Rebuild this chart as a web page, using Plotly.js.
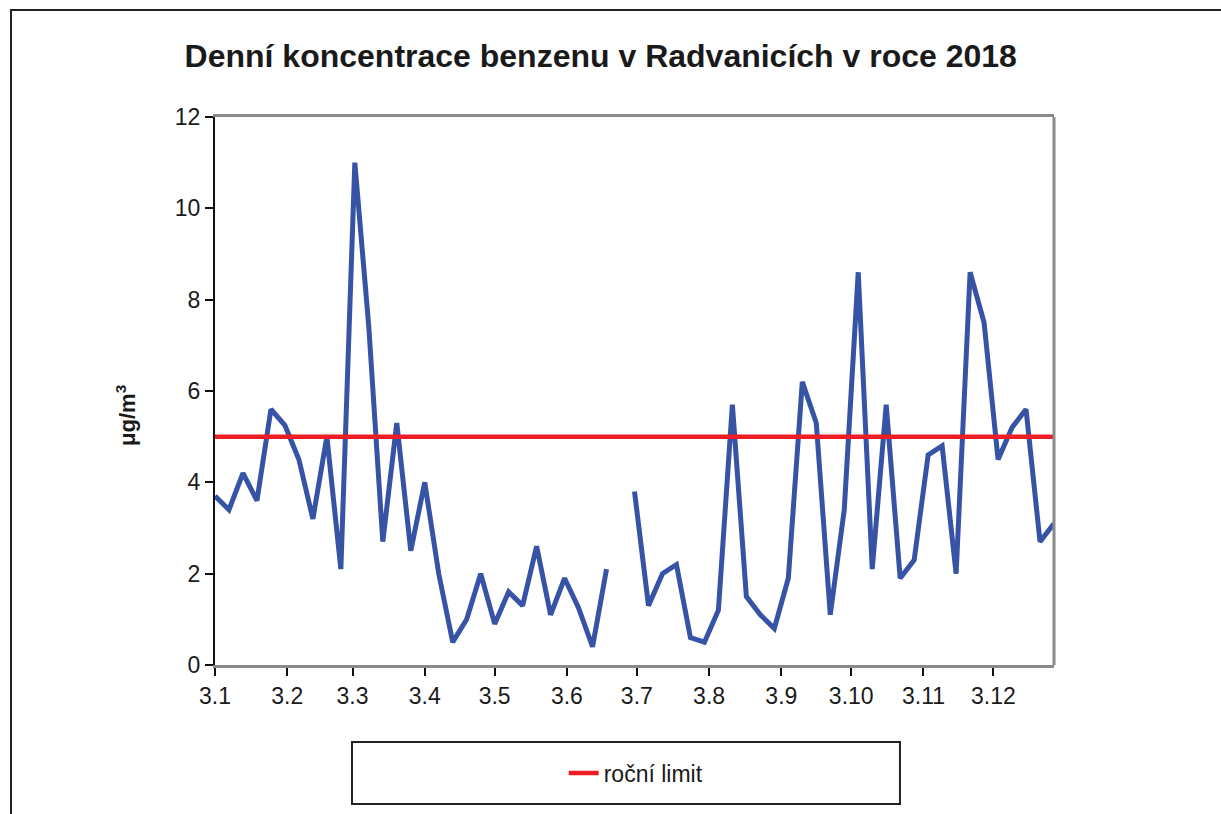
<!DOCTYPE html>
<html>
<head>
<meta charset="utf-8">
<script src="https://cdn.plot.ly/plotly-3.0.1.min.js"></script>
<style>
  html, body { margin: 0; padding: 0; background: #fff; }
  #wrap { position: relative; width: 1221px; height: 814px; }
  #chart { position: absolute; left: 0; top: 0; width: 1221px; height: 814px; }
  #frame { position: absolute; left: 10px; top: 9px; width: 1211px; height: 805px;
           border-top: 2px solid #222; border-left: 2px solid #222; box-sizing: border-box; pointer-events: none; }
</style>
</head>
<body>
<div id="wrap">
  <div id="chart"></div>
  <div id="frame"></div>
</div>
<script>
// Sampling dates (every 6th day, 2018)
const dates = [
  '2018-01-03','2018-01-09','2018-01-15','2018-01-21','2018-01-27',
  '2018-02-02','2018-02-08','2018-02-14','2018-02-20','2018-02-26',
  '2018-03-04','2018-03-10','2018-03-16','2018-03-22','2018-03-28',
  '2018-04-03','2018-04-09','2018-04-15','2018-04-21','2018-04-27',
  '2018-05-03','2018-05-09','2018-05-15','2018-05-21','2018-05-27',
  '2018-06-02','2018-06-08','2018-06-14','2018-06-20','2018-06-26',
  '2018-07-02','2018-07-08','2018-07-14','2018-07-20','2018-07-26',
  '2018-08-01','2018-08-07','2018-08-13','2018-08-19','2018-08-25','2018-08-31',
  '2018-09-06','2018-09-12','2018-09-18','2018-09-24','2018-09-30',
  '2018-10-06','2018-10-12','2018-10-18','2018-10-24','2018-10-30',
  '2018-11-05','2018-11-11','2018-11-17','2018-11-23','2018-11-29',
  '2018-12-05','2018-12-11','2018-12-17','2018-12-23','2018-12-29'
];
// Daily benzene concentration (µg/m3)
const benzene = [
  3.7, 3.4, 4.2, 3.6, 5.6,
  5.25, 4.5, 3.2, 5.0, 2.1,
  11.0, 7.4, 2.7, 5.3, 2.5,
  4.0, 2.0, 0.5, 1.0, 2.0,
  0.9, 1.6, 1.3, 2.6, 1.1,
  1.9, 1.25, 0.4, 2.1, null,
  3.8, 1.3, 2.0, 2.2, 0.6,
  0.5, 1.2, 5.7, 1.5, 1.1, 0.8,
  1.9, 6.2, 5.3, 1.1, 3.4,
  8.6, 2.1, 5.7, 1.9, 2.3,
  4.6, 4.8, 2.0, 8.6, 7.5,
  4.5, 5.2, 5.6, 2.7, 3.1
];
// Annual limit
const limitValue = 5;
const limitName = 'roční limit';
// X tick positions and labels
const tickDates = ['2018-01-03','2018-02-03','2018-03-03','2018-04-03','2018-05-03','2018-06-03',
                   '2018-07-03','2018-08-03','2018-09-03','2018-10-03','2018-11-03','2018-12-03'];
const tickLabels = ['3.1','3.2','3.3','3.4','3.5','3.6','3.7','3.8','3.9','3.10','3.11','3.12'];
const yTitle = 'μg/m<sup>3</sup>';

const font = 'Liberation Sans, Arial, sans-serif';

const traces = [
  {
    x: dates, y: benzene, type: 'scatter', mode: 'lines',
    line: { color: '#3653a6', width: 5 },
    connectgaps: false, showlegend: false, name: 'benzen'
  },
  {
    x: [dates[0], dates[dates.length - 1]], y: [limitValue, limitValue],
    type: 'scatter', mode: 'lines',
    line: { color: '#ee1c25', width: 4.5 },
    name: limitName, showlegend: true
  }
];

const layout = {
  width: 1221, height: 814,
  margin: { l: 215, r: 167, t: 117, b: 149 },
  paper_bgcolor: '#fff', plot_bgcolor: '#fff',
  font: { family: font, color: '#1a1a1a' },
  title: {
    text: '<b>Denní koncentrace benzenu v Radvanicích v roce 2018</b>',
    font: { family: font, size: 32, color: '#1a1a1a' },
    x: 0.492, xanchor: 'center', y: 0.932, yanchor: 'middle'
  },
  xaxis: {
    type: 'date',
    range: [dates[0], dates[dates.length - 1]],
    tickmode: 'array', tickvals: tickDates, ticktext: tickLabels,
    ticks: 'outside', ticklen: 8, tickwidth: 2, tickcolor: '#111',
    tickfont: { family: font, size: 23, color: '#1a1a1a' },
    showline: true, linecolor: '#8a8a8a', linewidth: 3, mirror: true,
    showgrid: false, zeroline: false, fixedrange: true
  },
  yaxis: {
    range: [0, 12], dtick: 2, tick0: 0,
    ticks: 'outside', ticklen: 8, tickwidth: 2, tickcolor: '#111',
    tickfont: { family: font, size: 23, color: '#1a1a1a' },
    showline: true, linecolor: '#111', linewidth: 2, mirror: false,
    showgrid: false, zeroline: false, fixedrange: true
  },
  annotations: [
    { text: '<b>' + yTitle + '</b>', xref: 'paper', yref: 'paper', x: -0.107, y: 0.455,
      xanchor: 'center', yanchor: 'middle', textangle: -90, showarrow: false,
      font: { family: font, size: 22, color: '#1a1a1a' } }
  ],
  showlegend: true,
  legend: {
    orientation: 'h', x: 0.502, xanchor: 'center', y: -0.197, yanchor: 'middle',
    font: { family: font, size: 23, color: '#1a1a1a' },
    bgcolor: 'rgba(0,0,0,0)', borderwidth: 0
  },
  shapes: [
    { type: 'line', xref: 'paper', yref: 'paper', x0: 1, x1: 1, y0: 0, y1: 1,
      line: { color: '#8a8a8a', width: 3 } },
    { type: 'rect', xref: 'paper', yref: 'paper', x0: 0.1633, x1: 0.8164, y0: -0.2536, y1: -0.1405,
      line: { color: '#222', width: 2 }, fillcolor: 'rgba(0,0,0,0)' }
  ]
};

Plotly.newPlot('chart', traces, layout, { displayModeBar: false, staticPlot: true });
</script>
</body>
</html>
